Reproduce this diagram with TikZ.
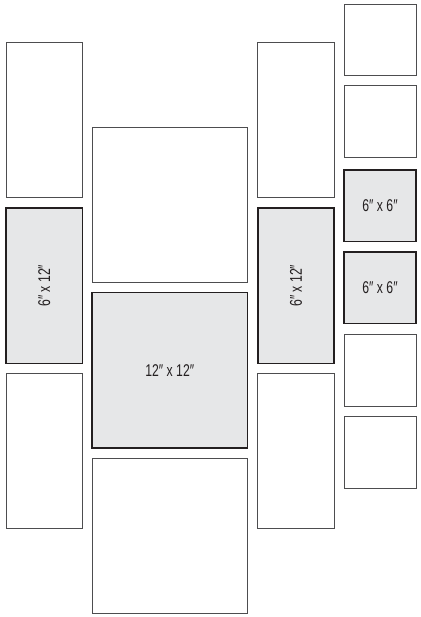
\documentclass[tikz,border=0pt]{standalone}
\usepackage{fontspec}
\setmainfont{Liberation Sans}[FakeStretch=0.72]
\definecolor{framegray}{HTML}{E6E7E8}
\definecolor{darkline}{HTML}{231F20}
\definecolor{thinline}{HTML}{4D4D4F}
\begin{document}
\begin{tikzpicture}[x=1pt,y=-1pt,
  plain/.style={draw=thinline, line width=0.9pt, fill=white, inner sep=0pt, outer sep=0pt},
  feat/.style={draw=darkline, line width=1.9pt, fill=framegray, inner sep=0pt, outer sep=0pt,
    font=\fontsize{17}{19}\selectfont, text=darkline},
  tall/.style={minimum width=76.5pt, minimum height=155.5pt},
  big/.style={minimum width=155.5pt, minimum height=155.5pt},
  small/.style={minimum width=72pt, minimum height=71.5pt}]
\useasboundingbox (0,0) rectangle (420,617);
% left column
\node[plain, tall] (l1) at (44.25,119.75) {};
\node[feat, tall] (l2) at (44.25,285.75) {\rotatebox{90}{6″ x 12″}};
\node[plain, tall] (l3) at (44.25,450.75) {};
% middle column
\node[plain, big] (m1) at (169.75,204.75) {};
\node[feat, big] (m2) at (169.75,370.25) {12″ x 12″};
\node[plain, big] (m3) at (169.75,535.75) {};
% third column
\node[plain, tall] (t1) at (296,119.75) {};
\node[feat, tall] (t2) at (296,285.75) {\rotatebox{90}{6″ x 12″}};
\node[plain, tall] (t3) at (296,450.75) {};
% right column
\node[plain, small] (r1) at (380,39.75) {};
\node[plain, small] (r2) at (380,121.25) {};
\node[feat, small] (r3) at (380,205.75) {6″ x 6″};
\node[feat, small] (r4) at (380,287.75) {6″ x 6″};
\node[plain, small] (r5) at (380,370.25) {};
\node[plain, small] (r6) at (380,452.25) {};
\end{tikzpicture}
\end{document}
